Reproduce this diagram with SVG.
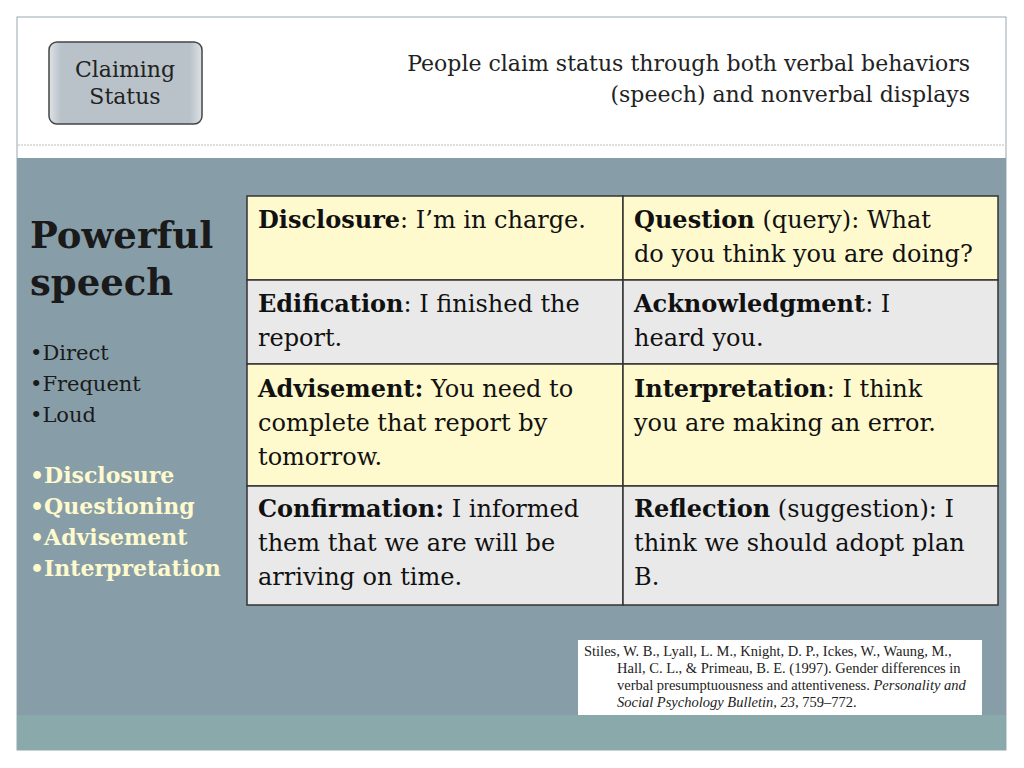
<svg xmlns="http://www.w3.org/2000/svg" width="1024" height="768" viewBox="0 0 1024 768">
<defs>
<linearGradient id="btn" x1="0" x2="1" y1="0" y2="0">
<stop offset="0" stop-color="#dde2e6"/><stop offset="0.08" stop-color="#b9c2c9"/><stop offset="0.92" stop-color="#b9c2c9"/><stop offset="1" stop-color="#dde2e6"/>
</linearGradient>
</defs>
<style>
text{font-family:"DejaVu Serif","Liberation Serif",serif;}
.t{font-size:24px;fill:#111;}
.b{font-weight:bold;}
.cell{stroke:#333;stroke-width:1.5;}
.y{fill:#fffacd;}
.g{fill:#e9e9e9;}
.side{font-size:21px;fill:#1a1a1a;}
.hl{font-size:22px;fill:#fffacd;font-weight:bold;}
.cit{font-family:"Liberation Serif",serif;font-size:14.5px;fill:#222;}
</style>
<rect width="1024" height="768" fill="#fff"/>
<rect x="17" y="17" width="989" height="733" fill="#fff" stroke="#9aa8ad"/>
<line x1="18" y1="145" x2="1005" y2="145" stroke="#bbb" stroke-dasharray="2,1"/>
<rect x="17" y="158" width="989" height="557" fill="#879ea9"/>
<rect x="17" y="715" width="989" height="35" fill="#8aa9aa"/>
<g id="button">
<rect x="49" y="42" width="153" height="82" rx="8" fill="url(#btn)" stroke="#444" stroke-width="1.5"/>
<text x="125" y="77" text-anchor="middle" style="font-size:22px;fill:#222">Claiming</text>
<text x="125" y="104" text-anchor="middle" style="font-size:22px;fill:#222">Status</text>
</g>
<g id="title" style="font-size:22px;fill:#222">
<text x="970" y="71" text-anchor="end" style="font-size:22px">People claim status through both verbal behaviors</text>
<text x="970" y="102" text-anchor="end" style="font-size:22px">(speech) and nonverbal displays</text>
</g>
<g id="sidebar">
<text x="30" y="248" class="b" style="font-size:37px;fill:#1a1a1a">Powerful</text>
<text x="30" y="295" class="b" style="font-size:37px;fill:#1a1a1a">speech</text>
<text x="30" y="360" class="side">•Direct</text>
<text x="30" y="391" class="side">•Frequent</text>
<text x="30" y="422" class="side">•Loud</text>
<text x="30" y="483" class="hl">•Disclosure</text>
<text x="30" y="514" class="hl">•Questioning</text>
<text x="30" y="545" class="hl">•Advisement</text>
<text x="30" y="576" class="hl">•Interpretation</text>
</g>
<g id="table">
<rect x="247" y="196" width="376" height="84" class="cell y"/>
<rect x="623" y="196" width="375" height="84" class="cell y"/>
<rect x="247" y="280" width="376" height="84" class="cell g"/>
<rect x="623" y="280" width="375" height="84" class="cell g"/>
<rect x="247" y="364" width="376" height="122" class="cell y"/>
<rect x="623" y="364" width="375" height="122" class="cell y"/>
<rect x="247" y="486" width="376" height="119" class="cell g"/>
<rect x="623" y="486" width="375" height="119" class="cell g"/>
<text x="258" y="228" class="t"><tspan class="b">Disclosure</tspan>: I’m in charge.</text>
<text x="634" y="228" class="t"><tspan class="b">Question</tspan> (query): What</text>
<text x="634" y="262" class="t">do you think you are doing?</text>
<text x="258" y="312" class="t"><tspan class="b">Edification</tspan>: I finished the</text>
<text x="258" y="346" class="t">report.</text>
<text x="634" y="312" class="t"><tspan class="b">Acknowledgment</tspan>: I</text>
<text x="634" y="346" class="t">heard you.</text>
<text x="258" y="397" class="t"><tspan class="b">Advisement:</tspan>  You need to</text>
<text x="258" y="431" class="t">complete that report by</text>
<text x="258" y="465" class="t">tomorrow.</text>
<text x="634" y="397" class="t"><tspan class="b">Interpretation</tspan>: I think</text>
<text x="634" y="431" class="t">you are making an error.</text>
<text x="258" y="517" class="t"><tspan class="b">Confirmation:</tspan> I informed</text>
<text x="258" y="551" class="t">them that we are will be</text>
<text x="258" y="585" class="t">arriving on time.</text>
<text x="634" y="517" class="t"><tspan class="b">Reflection</tspan> (suggestion): I</text>
<text x="634" y="551" class="t">think we should adopt plan</text>
<text x="634" y="585" class="t">B.</text>
</g>
<g id="citation">
<rect x="578" y="640" width="404" height="75" fill="#fff"/>
<text x="584" y="656" class="cit">Stiles, W. B., Lyall, L. M., Knight, D. P., Ickes, W., Waung, M.,</text>
<text x="617" y="673" class="cit">Hall, C. L., &amp; Primeau, B. E. (1997). Gender differences in</text>
<text x="617" y="690" class="cit">verbal presumptuousness and attentiveness. <tspan font-style="italic">Personality and</tspan></text>
<text x="617" y="707" class="cit"><tspan font-style="italic">Social Psychology Bulletin, 23</tspan>, 759–772.</text>
</g>
</svg>
